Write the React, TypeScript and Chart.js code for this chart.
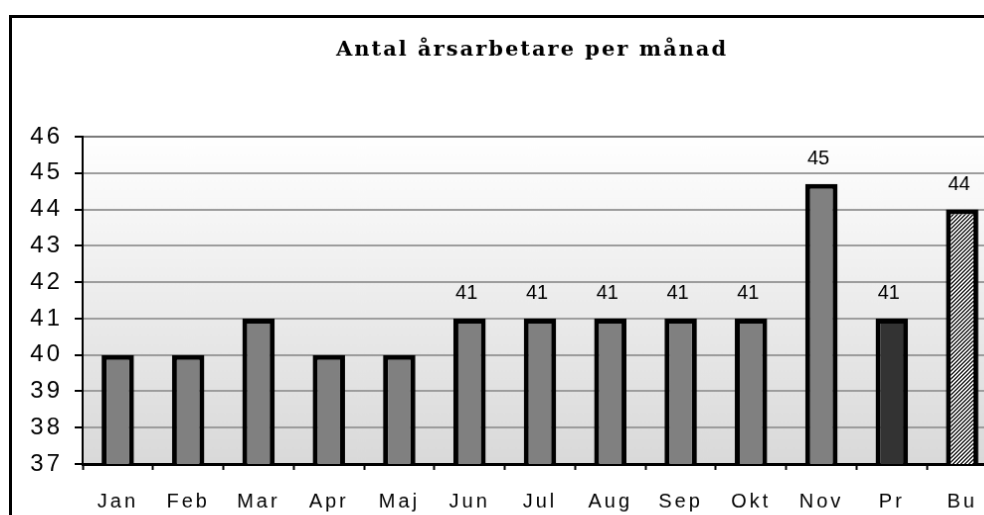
import React, { useEffect, useRef } from "react";
import { Chart, registerables } from "chart.js";

Chart.register(...registerables);

const titleText = "Antal årsarbetare per månad";
const categories = ["Jan", "Feb", "Mar", "Apr", "Maj", "Jun", "Jul", "Aug", "Sep", "Okt", "Nov", "Pr", "Bu"];
const values = [40, 40, 41, 40, 40, 41, 41, 41, 41, 41, 44.7, 41, 44];
const valueLabels = ["", "", "", "", "", "41", "41", "41", "41", "41", "45", "41", "44"];
const barKinds = ["month", "month", "month", "month", "month", "month", "month", "month", "month", "month", "month", "pr", "bu"];
const yMin = 37;
const yMax = 46;

function makeHatch(): CanvasPattern | string {
  const s = 4;
  const c = document.createElement("canvas");
  c.width = s;
  c.height = s;
  const g = c.getContext("2d");
  if (!g) return "#888";
  for (let y = 0; y < s; y++) {
    for (let x = 0; x < s; x++) {
      const k = (x + y) % s;
      g.fillStyle = k === 0 ? "#000000" : k === 1 ? "#404040" : "#ffffff";
      g.fillRect(x, y, 1, 1);
    }
  }
  const p = g.createPattern(c, "repeat");
  return p || "#888";
}

export default function App() {
  const ref = useRef<HTMLCanvasElement | null>(null);

  useEffect(() => {
    const canvas = ref.current;
    if (!canvas) return;
    const hatch = makeHatch();
    const fills = barKinds.map((k) => (k === "pr" ? "#333333" : k === "bu" ? hatch : "#808080"));

    const spacingPlugin = {
      id: "spacing",
      beforeLayout(chart: any) {
        chart.ctx.letterSpacing = "3px";
      },
      beforeDraw(chart: any) {
        chart.ctx.letterSpacing = "3px";
      },
    };

    const bgPlugin = {
      id: "bg",
      beforeDraw(chart: any) {
        const { ctx, chartArea } = chart;
        ctx.save();
        const g = ctx.createLinearGradient(0, chartArea.top, 0, chartArea.bottom);
        g.addColorStop(0, "#ffffff");
        g.addColorStop(1, "#d9d9d9");
        ctx.fillStyle = g;
        ctx.fillRect(chartArea.left, chartArea.top, chartArea.right - chartArea.left, chartArea.bottom - chartArea.top);
        ctx.restore();
      },
    };

    const labelPlugin = {
      id: "labels",
      afterDatasetsDraw(chart: any) {
        const { ctx } = chart;
        const meta = chart.getDatasetMeta(0);
        ctx.save();
        ctx.letterSpacing = "0px";
        ctx.fillStyle = "#000";
        ctx.font = "20px 'Liberation Sans', Arial, sans-serif";
        ctx.textAlign = "center";
        ctx.textBaseline = "alphabetic";
        meta.data.forEach((el: any, i: number) => {
          const t = valueLabels[i];
          if (!t) return;
          ctx.fillText(t, el.x - 3, el.y - 20);
        });
        ctx.restore();
      },
      afterDraw(chart: any) {
        const { ctx } = chart;
        ctx.save();
        ctx.letterSpacing = "2px";
        ctx.fillStyle = "#000";
        ctx.font = "bold 21px 'DejaVu Serif', 'Liberation Serif', serif";
        ctx.textAlign = "center";
        ctx.textBaseline = "middle";
        ctx.fillText(titleText, 523, 33);
        ctx.restore();
      },
    };

    const chart = new Chart(canvas, {
      type: "bar",
      data: {
        labels: categories,
        datasets: [
          {
            data: values,
            backgroundColor: fills as any,
            borderColor: "#000000",
            borderWidth: 5,
            barPercentage: 0.46,
            categoryPercentage: 1,
          },
        ],
      },
      options: {
        animation: false,
        responsive: false,
        devicePixelRatio: 1,
        layout: { padding: { top: 120, left: 0, right: 47, bottom: 29 } },
        plugins: {
          legend: { display: false },
          title: { display: false },
          tooltip: { enabled: false },
        },
        scales: {
          x: {
            offset: true,
            grid: {
              display: true,
              drawOnChartArea: false,
              drawTicks: true,
              tickLength: 6,
              tickColor: "#000",
              tickWidth: 2,
              offset: true,
            },
            border: { display: true, color: "#000", width: 3 },
            ticks: {
              color: "#000",
              padding: 20,
              font: { size: 20, family: "'Liberation Sans', Arial, sans-serif" },
              maxRotation: 0,
              autoSkip: false,
            },
            afterFit(scale: any) {
              scale.height = 60;
            },
          },
          y: {
            min: yMin,
            max: yMax,
            ticks: {
              stepSize: 1,
              color: "#000",
              padding: 12,
              font: { size: 24, family: "'Liberation Sans', Arial, sans-serif" },
            },
            grid: {
              color: (c: any) => (c.tick && c.tick.value === yMax ? "#7a7a7a" : "#9c9c9c"),
              lineWidth: 2,
              tickColor: "#000",
              tickLength: 8,
              tickWidth: 2,
            },
            border: { display: true, color: "#000", width: 2 },
            afterFit(scale: any) {
              scale.width = 71;
            },
          },
        },
      },
      plugins: [spacingPlugin, bgPlugin, labelPlugin],
    });
    return () => chart.destroy();
  }, []);

  return (
    <div
      style={{
        position: "fixed",
        left: 0,
        top: 0,
        width: 984,
        height: 515,
        overflow: "hidden",
        background: "#fff",
      }}
    >
      <canvas
        ref={ref}
        width={1038}
        height={540}
        style={{
          position: "absolute",
          left: 9,
          top: 15,
          border: "3px solid #000",
          display: "block",
        }}
      />
    </div>
  );
}
